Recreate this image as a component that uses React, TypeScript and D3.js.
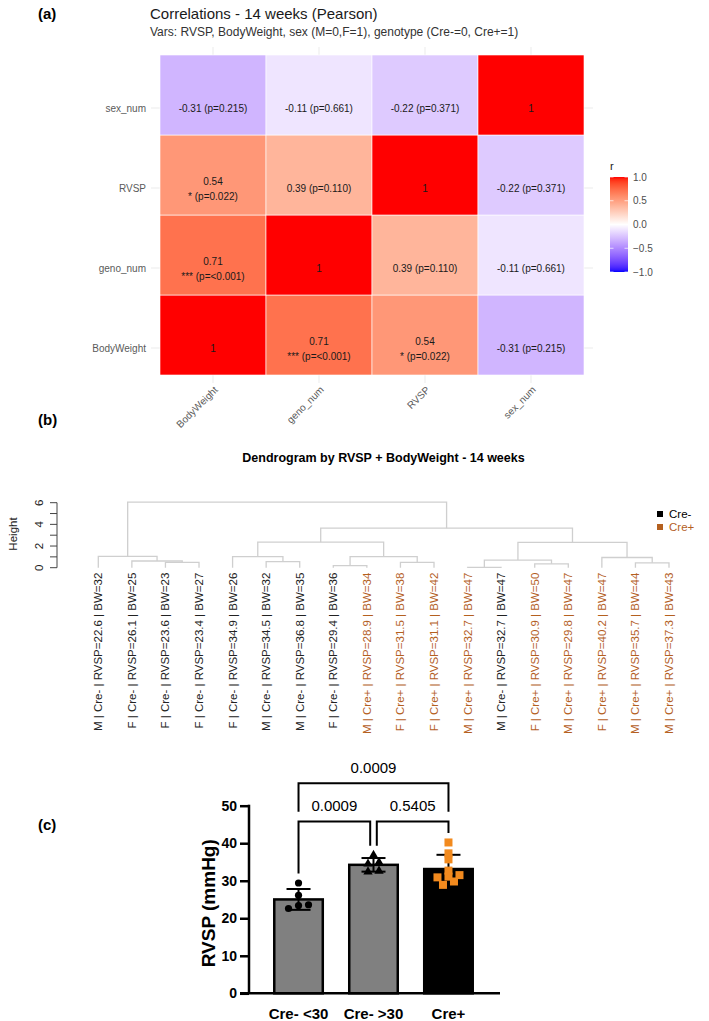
import { useEffect, useRef } from "react";
import * as d3 from "d3";

const WIDTH = 709;
const HEIGHT = 1021;
const SANS = "'Liberation Sans', Arial, Helvetica, sans-serif";

// (a) Pearson correlations between the four variables
const corrVars = ["BodyWeight", "geno_num", "RVSP", "sex_num"];
const corrPairs = [
  { a: "BodyWeight", b: "geno_num", r: 0.71, p: "<0.001", stars: "***" },
  { a: "BodyWeight", b: "RVSP", r: 0.54, p: "0.022", stars: "*" },
  { a: "BodyWeight", b: "sex_num", r: -0.31, p: "0.215", stars: "" },
  { a: "geno_num", b: "RVSP", r: 0.39, p: "0.110", stars: "" },
  { a: "geno_num", b: "sex_num", r: -0.11, p: "0.661", stars: "" },
  { a: "RVSP", b: "sex_num", r: -0.22, p: "0.371", stars: "" },
];
const legendBreaks = [1, 0.5, 0, -0.5, -1];

// (b) leaves of the dendrogram, in plotting order
const leafSex = ["M", "F", "F", "F", "F", "M", "M", "F", "M", "F", "F", "M", "M", "F", "M", "F", "M", "M"];
const leafGeno = [
  "Cre-", "Cre-", "Cre-", "Cre-", "Cre-", "Cre-", "Cre-", "Cre-", "Cre+",
  "Cre+", "Cre+", "Cre+", "Cre-", "Cre+", "Cre+", "Cre+", "Cre+", "Cre+",
];
const leafRvsp = [22.6, 26.1, 23.6, 23.4, 34.9, 34.5, 36.8, 29.4, 28.9, 31.5, 31.1, 32.7, 32.7, 30.9, 29.8, 40.2, 35.7, 37.3];
const leafBw = [32, 25, 23, 27, 26, 32, 35, 36, 34, 38, 42, 47, 47, 50, 47, 47, 44, 43];
const heightTicks = [0, 1, 2, 3, 4, 5, 6];
const heightLabels = [0, 2, 4, 6];

type TreeNode = number | { h: number; kids: [TreeNode, TreeNode] };

// merge heights of the hierarchical clustering (leaf indices at the tips)
const clusterTree: TreeNode = {
  h: 6.05,
  kids: [
    { h: 1.05, kids: [0, { h: 0.62, kids: [1, { h: 0.5, kids: [2, 3] }] }] },
    {
      h: 3.65,
      kids: [
        {
          h: 2.36,
          kids: [
            { h: 1.02, kids: [4, { h: 0.56, kids: [5, 6] }] },
            { h: 1.03, kids: [{ h: 0.2, kids: [7, 8] }, { h: 0.5, kids: [9, 10] }] },
          ],
        },
        {
          h: 2.34,
          kids: [
            { h: 0.7, kids: [{ h: 0.03, kids: [11, 12] }, { h: 0.36, kids: [13, 14] }] },
            { h: 0.94, kids: [15, { h: 0.45, kids: [16, 17] }] },
          ],
        },
      ],
    },
  ],
};

// (c) RVSP per group
const barGroups = ["Cre- <30", "Cre- >30", "Cre+"];
const rvspLow = [22.6, 26.1, 23.6, 23.4, 29.4];
const rvspHigh = [36.8, 34.9, 34.5, 32.6, 32.4];
const rvspCrePos = [28.9, 31.5, 31.1, 32.7, 30.9, 29.8, 40.2, 35.7, 37.3];
const rvspTicks = [0, 10, 20, 30, 40, 50];
const comparisons = [
  { from: 0, to: 1, label: "0.0009" },
  { from: 1, to: 2, label: "0.5405" },
  { from: 0, to: 2, label: "0.0009" },
];

const creNegColor = "#222222";
const crePosColor = "#b4601f";

const corrFill = (r: number) =>
  r >= 0 ? d3.interpolateLab("#ffffff", "#ff0000")(r) : d3.interpolateLab("#ffffff", "#0000ff")(-r);

function lookupPair(a: string, b: string) {
  return corrPairs.find((d) => (d.a === a && d.b === b) || (d.a === b && d.b === a));
}

// spread points that sit at nearly the same value into centred rows
function dodge(values: number[], rowGap: number, step: number) {
  const order = d3.range(values.length).sort((i, j) => values[i] - values[j]);
  const offsets = new Array(values.length).fill(0);
  let row: number[] = [];
  const flush = () => {
    row.forEach((idx, k) => (offsets[idx] = (k - (row.length - 1) / 2) * step));
    row = [];
  };
  order.forEach((idx) => {
    if (row.length && values[idx] - values[row[0]] > rowGap) flush();
    row.push(idx);
  });
  flush();
  return offsets;
}

function drawCorrelation(svg: d3.Selection<SVGSVGElement, unknown, null, undefined>) {
  const g = svg.append("g").attr("font-family", SANS);
  const x = d3.scaleBand().domain(corrVars).range([160, 584]);
  const y = d3.scaleBand().domain([...corrVars].reverse()).range([55, 375]);
  const half = x.bandwidth() / 2;

  g.append("text").attr("x", 38).attr("y", 19).attr("font-size", 15).attr("font-weight", "bold").text("(a)");
  g.append("text").attr("x", 150).attr("y", 19).attr("font-size", 15).attr("fill", "#1a1a1a")
    .text("Correlations - 14 weeks (Pearson)");
  g.append("text").attr("x", 150).attr("y", 36).attr("font-size", 12).attr("fill", "#333")
    .text("Vars: RVSP, BodyWeight, sex (M=0,F=1), genotype (Cre-=0, Cre+=1)");

  // panel grid
  corrVars.forEach((v) => {
    g.append("line").attr("x1", x(v)! + half).attr("x2", x(v)! + half).attr("y1", 47).attr("y2", 383)
      .attr("stroke", "#ebebeb");
    g.append("line").attr("x1", 151).attr("x2", 593).attr("y1", y(v)! + half).attr("y2", y(v)! + half)
      .attr("stroke", "#ebebeb");
  });

  const cells = corrVars.flatMap((col) =>
    corrVars.map((row) => {
      const pair = col === row ? null : lookupPair(col, row);
      return { col, row, pair, r: pair ? pair.r : 1 };
    })
  );

  g.selectAll("rect.tile").data(cells).enter().append("rect")
    .attr("x", (d) => x(d.col)!).attr("y", (d) => y(d.row)!)
    .attr("width", x.bandwidth()).attr("height", y.bandwidth())
    .attr("fill", (d) => corrFill(d.r)).attr("stroke", "#ffffff").attr("stroke-width", 0.6);

  cells.forEach((d) => {
    const cx = x(d.col)! + half;
    const cy = y(d.row)! + half;
    const t = g.append("text").attr("x", cx).attr("text-anchor", "middle").attr("font-size", 10).attr("fill", "#1a1a1a");
    if (!d.pair) {
      t.attr("y", cy).attr("dy", "0.35em").text("1");
    } else if (d.pair.stars) {
      t.attr("y", cy - 7).attr("dy", "0.35em").text(d.pair.r.toFixed(2));
      g.append("text").attr("x", cx).attr("y", cy + 8).attr("dy", "0.35em").attr("text-anchor", "middle")
        .attr("font-size", 10).attr("fill", "#1a1a1a").text(`${d.pair.stars} (p=${d.pair.p})`);
    } else {
      t.attr("y", cy).attr("dy", "0.35em").text(`${d.pair.r.toFixed(2)} (p=${d.pair.p})`);
    }
  });

  g.selectAll("text.rowlab").data(corrVars).enter().append("text")
    .attr("x", 146).attr("y", (v) => y(v)! + half).attr("dy", "0.35em").attr("text-anchor", "end")
    .attr("font-size", 10).attr("fill", "#5a5a5a").text((v) => v);

  g.selectAll("text.collab").data(corrVars).enter().append("text")
    .attr("transform", (v) => `translate(${x(v)! + half + 3},${388}) rotate(-45)`)
    .attr("text-anchor", "end").attr("dy", "0.35em")
    .attr("font-size", 10).attr("fill", "#5a5a5a").text((v) => v);

  // colour bar legend
  const ly = d3.scaleLinear().domain([-1, 1]).range([272, 177]);
  const grad = svg.append("defs").append("linearGradient").attr("id", "corr-grad")
    .attr("x1", 0).attr("y1", 1).attr("x2", 0).attr("y2", 0);
  d3.range(-1, 1.0001, 0.05).forEach((r) => {
    grad.append("stop").attr("offset", (r + 1) / 2).attr("stop-color", corrFill(Math.max(-1, Math.min(1, r))));
  });
  g.append("text").attr("x", 610).attr("y", 170).attr("font-size", 11).attr("fill", "#1a1a1a").text("r");
  g.append("rect").attr("x", 610).attr("y", ly(1)).attr("width", 18).attr("height", ly(-1) - ly(1))
    .attr("fill", "url(#corr-grad)");
  legendBreaks.forEach((b) => {
    g.append("line").attr("x1", 610).attr("x2", 613.5).attr("y1", ly(b)).attr("y2", ly(b)).attr("stroke", "#fff").attr("stroke-opacity", 0.7);
    g.append("line").attr("x1", 624.5).attr("x2", 628).attr("y1", ly(b)).attr("y2", ly(b)).attr("stroke", "#fff").attr("stroke-opacity", 0.7);
  });
  g.selectAll("text.leg").data(legendBreaks).enter().append("text")
    .attr("x", 633).attr("y", (b) => ly(b)).attr("dy", "0.35em").attr("font-size", 10).attr("fill", "#4d4d4d")
    .text((b) => d3.format(".1f")(b));
}

function drawDendrogram(svg: d3.Selection<SVGSVGElement, unknown, null, undefined>) {
  const g = svg.append("g").attr("font-family", SANS);
  const x = d3.scalePoint<number>().domain(d3.range(leafRvsp.length)).range([98.3, 669]);
  const y = d3.scaleLinear().domain([0, 6]).range([567.7, 502.7]);

  g.append("text").attr("x", 38).attr("y", 425).attr("font-size", 15).attr("font-weight", "bold").text("(b)");
  g.append("text").attr("x", 383.5).attr("y", 462).attr("text-anchor", "middle").attr("font-size", 12.5)
    .attr("font-weight", "bold").text("Dendrogram by RVSP + BodyWeight - 14 weeks");

  const links: string[] = [];
  const walk = (node: TreeNode): { x: number; h: number } => {
    if (typeof node === "number") return { x: x(node)!, h: 0 };
    const [a, b] = node.kids.map(walk);
    links.push(`M${a.x},${y(a.h)}V${y(node.h)}H${b.x}V${y(b.h)}`);
    return { x: (a.x + b.x) / 2, h: node.h };
  };
  walk(clusterTree);

  g.selectAll("path.link").data(links).enter().append("path")
    .attr("d", (d) => d).attr("fill", "none").attr("stroke", "#cfcfcf").attr("stroke-width", 1.3);

  // height axis
  g.append("line").attr("x1", 57).attr("x2", 57).attr("y1", y(0)).attr("y2", y(6)).attr("stroke", "#444");
  heightTicks.forEach((t) => {
    g.append("line").attr("x1", 50).attr("x2", 57).attr("y1", y(t)).attr("y2", y(t)).attr("stroke", "#444");
  });
  g.selectAll("text.ht").data(heightLabels).enter().append("text")
    .attr("transform", (t) => `translate(39,${y(t)}) rotate(-90)`)
    .attr("text-anchor", "middle").attr("dy", "0.35em").attr("font-size", 11.5).attr("fill", "#222")
    .text((t) => t);
  g.append("text").attr("transform", `translate(13,534) rotate(-90)`).attr("text-anchor", "middle")
    .attr("dy", "0.35em").attr("font-size", 11.5).attr("fill", "#222").text("Height");

  g.selectAll("text.leaf").data(leafRvsp).enter().append("text")
    .attr("transform", (_, i) => `translate(${x(i)},${y(0) + 5}) rotate(-90)`)
    .attr("text-anchor", "end").attr("dy", "0.35em").attr("font-size", 11.5)
    .attr("fill", (_, i) => (leafGeno[i] === "Cre+" ? crePosColor : creNegColor))
    .text((v, i) => `${leafSex[i]} | ${leafGeno[i]} | RVSP=${v.toFixed(1)} | BW=${leafBw[i]}`);

  // legend
  ["Cre-", "Cre+"].forEach((k, i) => {
    const color = k === "Cre+" ? crePosColor : "#000";
    g.append("rect").attr("x", 657).attr("y", 511 + i * 13).attr("width", 6).attr("height", 6).attr("fill", color);
    g.append("text").attr("x", 669).attr("y", 514 + i * 13).attr("dy", "0.35em").attr("font-size", 11.5)
      .attr("fill", k === "Cre+" ? crePosColor : "#000").text(k);
  });
}

function drawBars(svg: d3.Selection<SVGSVGElement, unknown, null, undefined>) {
  const g = svg.append("g").attr("font-family", "Arial, 'Liberation Sans', sans-serif");
  const y = d3.scaleLinear().domain([0, 50]).range([993.3, 805.7]);
  const x = d3.scaleBand().domain(barGroups).range([249, 498]).paddingInner(0.353).paddingOuter(0.337);
  const groups = [rvspLow, rvspHigh, rvspCrePos].map((vals, i) => ({
    name: barGroups[i],
    vals,
    mean: d3.mean(vals)!,
    sd: d3.deviation(vals)!,
    cx: x(barGroups[i])! + x.bandwidth() / 2,
  }));

  g.append("text").attr("x", 38).attr("y", 830).attr("font-size", 15).attr("font-weight", "bold").text("(c)");

  g.selectAll("rect.bar").data(groups).enter().append("rect")
    .attr("x", (d) => x(d.name)!).attr("width", x.bandwidth())
    .attr("y", (d) => y(d.mean)).attr("height", (d) => y(0) - y(d.mean))
    .attr("fill", (_, i) => (i === 2 ? "#000" : "#808080")).attr("stroke", "#000").attr("stroke-width", 2.5);

  // mean ± SD
  groups.forEach((d) => {
    const top = y(d.mean + d.sd);
    const bottom = y(d.mean - d.sd);
    g.append("line").attr("x1", d.cx).attr("x2", d.cx).attr("y1", top).attr("y2", bottom).attr("stroke", "#000").attr("stroke-width", 2);
    [top, bottom].forEach((yy) =>
      g.append("line").attr("x1", d.cx - 12).attr("x2", d.cx + 12).attr("y1", yy).attr("y2", yy).attr("stroke", "#000").attr("stroke-width", 2)
    );
  });

  // individual animals
  const [low, high, pos] = groups;
  const lowOff = dodge(low.vals, 1.5, 10);
  g.selectAll("circle.pt").data(low.vals).enter().append("circle")
    .attr("cx", (_, i) => low.cx + lowOff[i]).attr("cy", (v) => y(v)).attr("r", 3.6).attr("fill", "#000");
  const highOff = dodge(high.vals, 1.5, 11);
  const tri = d3.symbol().type(d3.symbolTriangle).size(38);
  g.selectAll("path.pt").data(high.vals).enter().append("path")
    .attr("d", tri()!).attr("transform", (v, i) => `translate(${high.cx + highOff[i]},${y(v)})`).attr("fill", "#000");
  const posOff = dodge(pos.vals, 1.5, 11);
  g.selectAll("rect.pt").data(pos.vals).enter().append("rect")
    .attr("x", (_, i) => pos.cx + posOff[i] - 4).attr("y", (v) => y(v) - 4).attr("width", 8).attr("height", 8)
    .attr("fill", "#f28a1e");

  // axes
  const yAxis = g.append("g").attr("transform", "translate(249,0)")
    .call(d3.axisLeft(y).tickValues(rvspTicks).tickSize(9).tickSizeOuter(0).tickPadding(3));
  yAxis.select(".domain").attr("stroke-width", 2.5).attr("d", `M0,${y(50) - 1}V${y(0)}`);
  yAxis.selectAll(".tick line").attr("stroke-width", 2.5);
  yAxis.selectAll(".tick text").attr("font-size", 14).attr("font-weight", "bold").attr("fill", "#000")
    .attr("font-family", "Arial, 'Liberation Sans', sans-serif");
  g.append("line").attr("x1", 240).attr("x2", 500).attr("y1", y(0)).attr("y2", y(0)).attr("stroke", "#000").attr("stroke-width", 2.5);

  g.selectAll("text.cat").data(groups).enter().append("text")
    .attr("x", (d) => d.cx).attr("y", 1019).attr("text-anchor", "middle").attr("font-size", 15)
    .attr("font-weight", "bold").text((d) => d.name);
  g.append("text").attr("transform", `translate(215,${y(24)}) rotate(-90)`).attr("text-anchor", "middle")
    .attr("font-size", 19).attr("font-weight", "bold").text("RVSP (mmHg)");

  // multiple-comparison brackets
  const groupTop = groups.map((d) => Math.max(d3.max(d.vals)!, d.mean + d.sd) + 2.5);
  const lowerLevel = 45.8;
  const upperLevel = 56;
  comparisons.forEach((c) => {
    const wide = c.to - c.from > 1;
    const x1 = groups[c.from].cx + (wide || c.from === 0 ? 0 : 3.3);
    const x2 = groups[c.to].cx - (wide || c.to === 2 ? 0 : 3.3);
    const level = wide ? upperLevel : lowerLevel;
    const leg1 = wide ? upperLevel - 7.6 : groupTop[c.from];
    const leg2 = wide ? upperLevel - 7.6 : groupTop[c.to];
    g.append("path").attr("d", `M${x1},${y(leg1)}V${y(level)}H${x2}V${y(leg2)}`)
      .attr("fill", "none").attr("stroke", "#000").attr("stroke-width", 2);
    g.append("text").attr("x", (x1 + x2) / 2).attr("y", y(level) - 10.5).attr("text-anchor", "middle")
      .attr("font-size", 15).text(c.label);
  });
}

export default function App() {
  const svgRef = useRef<SVGSVGElement | null>(null);

  useEffect(() => {
    const el = svgRef.current;
    if (!el) return;
    const svg = d3.select(el);
    svg.selectAll("*").remove();
    svg.append("rect").attr("width", WIDTH).attr("height", HEIGHT).attr("fill", "#fff");
    drawCorrelation(svg);
    drawDendrogram(svg);
    drawBars(svg);
  }, []);

  return (
    <svg
      ref={svgRef}
      width={WIDTH}
      height={HEIGHT}
      style={{ position: "absolute", left: 0, top: 0, display: "block" }}
    />
  );
}
